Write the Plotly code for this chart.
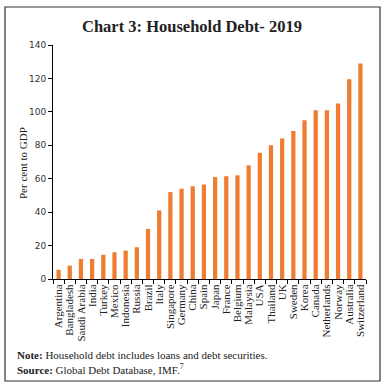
import plotly.graph_objects as go

countries = ["Argentina", "Bangladesh", "Saudi Arabia", "India", "Turkey", "Mexico",
             "Indonesia", "Russia", "Brazil", "Italy", "Singapore", "Germany", "China",
             "Spain", "Japan", "France", "Belgium", "Malaysia", "USA", "Thailand", "UK",
             "Sweden", "Korea", "Canada", "Netherlands", "Norway", "Australia", "Switzerland"]
debt = [5.5, 8, 12, 12, 14.5, 16, 17, 19, 30, 41, 52, 54, 55.5, 56.5, 61, 61.5, 62,
        68, 75.5, 80, 84, 88.5, 95, 101, 101, 105, 119.5, 129]
y_ticks = [0, 20, 40, 60, 80, 100, 120, 140]

W, H = 387, 388
L, R, T, B = 53, 21, 45, 109
pw, ph = W - L - R, H - T - B

def px(x):
    return (x - L) / pw

def py(y):
    return (H - B - y) / ph

fig = go.Figure(go.Bar(x=countries, y=debt, marker_color="#EE7D31",
                       marker_line_width=0))

fig.update_layout(
    width=W, height=H,
    margin=dict(l=L, r=R, t=T, b=B),
    paper_bgcolor="white", plot_bgcolor="white",
    bargap=0.62,
    showlegend=False,
    title=dict(text="<b>Chart 3: Household Debt- 2019</b>", x=192 / W, xanchor="center",
               y=1 - 26 / H, yanchor="middle",
               font=dict(family="Liberation Serif", size=16.5, color="#222222")),
    xaxis=dict(showline=True, linecolor="black", linewidth=1, ticks="outside",
               tickmode="array", tickvals=countries, ticktext=countries,
               tickson="boundaries", ticklen=4, tickcolor="black", tickangle=-90,
               tickfont=dict(family="Liberation Serif", size=11, color="#222222"),
               showgrid=False),
    yaxis=dict(range=[0, 140], tickvals=y_ticks, showline=True, linecolor="black",
               linewidth=1, ticks="outside", ticklen=4, tickcolor="black",
               tickfont=dict(family="DejaVu Sans", size=9, color="#333333"),
               showgrid=False, zeroline=False),
    shapes=[dict(type="rect", xref="paper", yref="paper", layer="above",
                 x0=px(5), x1=px(380), y0=py(381), y1=py(7),
                 line=dict(color="#333333", width=1.2))],
    annotations=[
        dict(text="Per cent to GDP", xref="paper", yref="paper", x=px(23), y=py(163),
             textangle=-90, showarrow=False, xanchor="center", yanchor="middle",
             font=dict(family="Liberation Serif", size=11, color="#222222")),
        dict(text="<b>Note:</b> Household debt includes loans and debt securities.",
             xref="paper", yref="paper", x=px(15), y=py(355), showarrow=False,
             xanchor="left", yanchor="middle",
             font=dict(family="Liberation Serif", size=11, color="#222222")),
        dict(text="<b>Source:</b> Global Debt Database, IMF.<sup>7</sup>",
             xref="paper", yref="paper", x=px(15), y=py(369), showarrow=False,
             xanchor="left", yanchor="middle",
             font=dict(family="Liberation Serif", size=11, color="#222222")),
    ],
)

fig.write_html("out.html", config={"displayModeBar": False},
               post_script="document.body.style.margin='0';document.body.style.overflow='hidden';")
